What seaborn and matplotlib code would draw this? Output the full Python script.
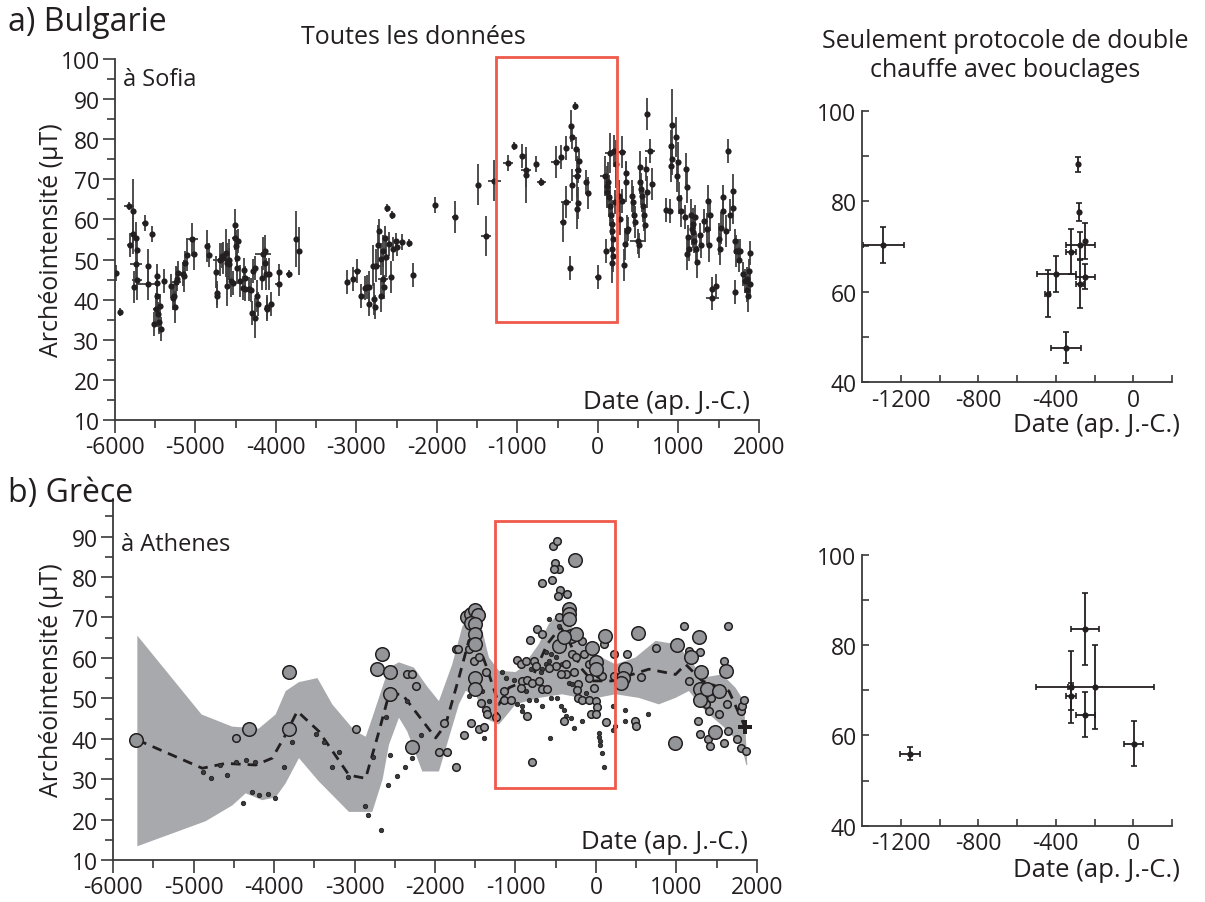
import numpy as np
import matplotlib
matplotlib.use("Agg")
import matplotlib.pyplot as plt
from matplotlib.patches import Rectangle
from matplotlib.ticker import MultipleLocator, FixedLocator
import seaborn as sns

# ---- a) Bulgarie, all data (date, intensity, intensity error, date error)
sofia_date = [-5992, -5934, -5822, -5772, -5814, -5781, -5739, -5731, -5739, -5723, -5764, -5627, -5540,
              -5590, -5590, -5516, -5483, -5491, -5474, -5474, -5462, -5450, -5433, -5441, -5387, -5308,
              -5275, -5267, -5259, -5242, -5234, -5217, -5159, -5143, -5126, -5101, -5043, -5018, -4861,
              -4836, -4745, -4737, -4737, -4696, -4675, -4663, -4621, -4613, -4604, -4588, -4580, -4563,
              -4538, -4513, -4505, -4497, -4489, -4480, -4472, -4447, -4414, -4397, -4389, -4381, -4331,
              -4306, -4298, -4265, -4281, -4257, -4240, -4219, -4174, -4157, -4132, -4141, -4124, -4116,
              -4108, -4091, -4066, -3958, -3967, -3843, -3756, -3718,
              -3122, -3040, -2998, -2948, -2895, -2874, -2842, -2849, -2800, -2783, -2767, -2758, -2733,
              -2717, -2700, -2692, -2675, -2667, -2659, -2647, -2634, -2618, -2593, -2560, -2568, -2543,
              -2510, -2494, -2440, -2345, -2295, -2026, -1777, -1495, -1392, -1290,
              -1115, -1044, -949, -895, -895, -771, -701, -523, -461, -440, -399, -399, -349, -333, -316,
              -324, -287, -275, -266, -266, -246, -233, -246, -142, -122, 2, 98,
              86, 107, 114, 127, 139, 145, 154, 162, 170, 179, 187, 179, 187, 179, 195, 207, 220,
              261, 278, 294, 303, 328, 331, 344, 352, 360, 373, 427, 436, 448, 460, 498, 510, 519, 527,
              539, 552, 560, 569, 581, 594, 610, 606, 643, 676, 851, 892, 914, 914, 922, 926, 976, 984,
              997, 1009, 1026, 1080, 1092, 1101, 1101, 1121, 1134, 1151, 1163, 1176, 1184, 1192, 1204,
              1217, 1225, 1266, 1275, 1316, 1349, 1369, 1382, 1390, 1415, 1423, 1473, 1506, 1514, 1523,
              1548, 1556, 1597, 1610, 1647, 1672, 1672, 1701, 1701, 1713, 1742, 1755, 1771, 1804, 1825,
              1846, 1854, 1867, 1879, 1887, 1887]
sofia_f = [46.7, 36.9, 63.3, 62.0, 53.7, 56.4, 55.4, 52.3, 48.8, 45.0, 43.2, 59.0, 56.4,
           48.5, 44.0, 33.9, 40.9, 37.6, 46.0, 44.2, 36.3, 34.4, 32.7, 38.5, 44.6, 43.5,
           40.5, 40.9, 38.2, 44.4, 45.2, 46.7, 46.5, 45.9, 49.2, 51.2, 55.0, 51.5, 53.3,
           51.2, 46.8, 41.7, 40.9, 50.0, 51.0, 50.4, 51.7, 49.2, 43.5, 50.0, 48.8, 44.6,
           44.2, 58.7, 55.4, 53.3, 47.9, 50.4, 54.6, 44.6, 42.9, 47.5, 45.4, 42.7, 42.7,
           42.4, 36.6, 35.5, 47.1, 47.9, 40.9, 39.0, 45.4, 51.5, 52.1, 49.2, 46.3, 38.2,
           37.6, 46.3, 39.0, 46.8, 43.8, 46.3, 55.1, 52.1,
           44.5, 45.2, 47.2, 41.0, 42.8, 43.1, 43.1, 38.9, 48.5, 40.2, 38.1, 48.5, 53.6,
           57.2, 41.0, 50.1, 52.2, 45.2, 43.1, 55.3, 50.6, 62.9, 53.9, 61.2, 45.6, 52.6,
           54.5, 53.0, 54.3, 54.0, 46.2, 63.6, 60.5, 68.7, 55.8, 69.7,
           74.0, 78.2, 75.9, 72.2, 71.1, 73.8, 69.4, 74.3, 75.5, 59.3, 77.8, 64.3, 47.9, 83.4, 80.6,
           68.6, 88.2, 77.6, 70.7, 62.5, 64.1, 74.5, 72.2, 69.3, 66.6, 45.7, 52.2,
           70.9, 68.4, 66.8, 69.3, 65.5, 63.4, 76.6, 61.0, 58.9, 57.2, 55.1, 52.6, 51.0, 49.2, 77.0, 64.3, 73.8,
           65.9, 60.1, 76.8, 64.7, 48.7, 53.9, 69.3, 71.6, 57.2, 57.6, 65.9, 64.3, 61.0, 59.3, 54.5, 53.5, 73.0, 69.3,
           67.6, 65.9, 63.4, 61.0, 58.5, 72.6, 66.8, 86.3, 77.0, 68.9, 62.4, 62.0, 78.2, 73.4, 83.6, 75.1, 80.5, 70.9,
           74.4, 65.3, 62.2, 60.5, 72.6, 68.2, 51.4, 55.6, 52.6, 61.0, 57.6, 58.9, 56.8, 54.7, 60.5,
           52.6, 49.3, 56.0, 53.5, 59.5, 57.6, 64.7, 53.5, 61.0, 42.7, 40.3, 43.3, 55.1, 52.6, 57.8,
           65.7, 62.0, 57.2, 77.0, 61.0, 67.2, 62.8, 54.5, 42.0, 52.2, 52.2, 50.0, 52.2, 46.4, 44.7,
           45.2, 42.3, 41.0, 47.2, 51.6, 43.9]
sofia_df = [2, 1, 1, 8, 3, 5, 4, 3, 4, 5, 4, 2, 2,
            4, 4, 3, 3, 4, 3, 3, 3, 3, 3, 3, 3, 3,
            3, 3, 4, 4, 3, 3, 3, 4, 3, 4, 4, 4, 4,
            3, 4, 3, 3, 4, 3, 4, 6, 5, 5, 5, 4, 4,
            3, 4, 3, 4, 4, 3, 3, 4, 3, 3, 3, 3, 3,
            3, 3, 5, 3, 3, 4, 3, 3, 4, 4, 4, 4, 3,
            3, 4, 3, 2, 3, 1, 7, 6,
            3, 3, 3, 3, 3, 3, 4, 3, 5, 4, 3, 4, 5,
            3, 4, 4, 4, 4, 3, 3, 5, 1, 3, 1, 4, 3,
            2, 2, 2, 1, 3, 2, 4, 5, 5, 5,
            2, 1, 3, 4, 7, 2, 1, 4, 3, 5, 3, 4, 3, 4, 3,
            4, 1, 3, 5, 5, 4, 3, 3, 3, 4, 3, 3,
            5, 5, 4, 5, 5, 5, 5, 5, 6, 5, 5, 5, 4, 5, 4, 3, 6,
            4, 4, 4, 3, 4, 4, 5, 3, 4, 3, 4, 4, 3, 4, 3, 3, 4, 3,
            4, 4, 4, 4, 4, 3, 4, 4, 3, 4, 3, 3, 4, 4, 9, 4, 5, 4,
            5, 4, 4, 3, 4, 4, 4, 3, 3, 4, 4, 4, 4, 3, 3,
            4, 4, 3, 3, 3, 4, 4, 4, 4, 3, 3, 3, 4, 4, 4,
            3, 4, 4, 3, 4, 4, 4, 3, 3, 4, 3, 3, 3, 3, 3,
            3, 3, 4, 3, 3, 3]
sofia_dd = [0, 20, 60, 0, 40, 30, 20, 0, 80, 60, 0, 40, 20,
            0, 150, 20, 20, 40, 0, 0, 0, 0, 0, 30, 0, 0,
            0, 0, 30, 60, 0, 0, 0, 0, 0, 0, 80, 0, 0,
            0, 0, 0, 0, 80, 0, 0, 0, 0, 0, 0, 0, 0,
            0, 0, 40, 0, 0, 0, 40, 0, 0, 0, 0, 0, 0,
            0, 0, 0, 0, 0, 0, 0, 0, 100, 0, 0, 0, 0,
            40, 0, 0, 0, 40, 30, 0, 0,
            0, 0, 50, 0, 0, 0, 0, 0, 0, 0, 0, 60, 0,
            0, 0, 0, 0, 60, 0, 0, 0, 0, 20, 0, 0, 0,
            0, 30, 30, 0, 0, 0, 40, 0, 60, 80,
            60, 0, 0, 60, 0, 0, 60, 60, 0, 30, 0, 60, 0, 0, 0,
            0, 0, 0, 60, 0, 0, 0, 40, 0, 40, 40, 0,
            60, 0, 0, 0, 0, 0, 60, 0, 0, 0, 0, 0, 0, 0, 60, 0, 0,
            0, 0, 60, 0, 0, 0, 0, 0, 0, 0, 0, 0, 0, 0, 100, 0, 0, 0,
            0, 0, 0, 0, 0, 0, 0, 0, 60, 0, 0, 0, 0, 0, 0, 0, 0, 0,
            0, 0, 0, 0, 0, 0, 0, 0, 0, 0, 0, 0, 0, 0, 0,
            0, 0, 0, 0, 0, 0, 0, 0, 0, 0, 80, 0, 0, 0, 0,
            0, 0, 0, 0, 0, 0, 0, 0, 0, 0, 0, 0, 0, 0, 0,
            0, 0, 0, 0, 0, 0]

# ---- a) double heating with loops
sofia_dh_date = [-1290, -286, -279, -248, -274, -324, -398, -248, -274, -443, -348]
sofia_dh_f = [70.3, 88.2, 77.7, 71.2, 70.3, 68.8, 63.9, 63.3, 61.6, 59.5, 47.6]
sofia_dh_df = [3.9, 1.7, 2.0, 4.0, 3.0, 5.0, 4.0, 2.8, 5.3, 5.2, 3.5]
sofia_dh_dd = [105, 0, 0, 0, 76, 26, 100, 50, 21, 13, 78]

# ---- b) Grece, reference curve envelope and mean
band_up_date = [-5698, -4900, -4520, -4190, -3980, -3855, -3690, -3460, -3276, -3000, -2860, -2779,
                -2572, -2448, -2262, -2100, -1951, -1786, -1662, -1560, -1470, -1413, -1330, -1206,
                -1000, -917, -710, -586, -461, -254, -88, 243, 491, 740, 988, 1154, 1320, 1568,
                1734, 1838, 1880]
band_up_f = [65.5, 46.0, 43.0, 42.5, 46.0, 51.8, 54.0, 55.0, 48.5, 42.0, 40.5, 45.2,
             57.6, 58.9, 57.6, 53.0, 49.3, 58.4, 67.6, 72.0, 71.0, 66.8, 60.1, 56.8,
             56.5, 57.6, 63.4, 68.4, 70.9, 66.7, 61.7, 58.4, 60.1, 64.2, 63.4, 60.1, 55.1, 55.9,
             52.6, 49.3, 33.5]
band_lo_date = [-5698, -4849, -4518, -4352, -4146, -3979, -3855, -3690, -3441, -3069, -2779, -2650,
                -2572, -2448, -2345, -2158, -1951, -1703, -1620, -1495, -1370, -1206, -999, -710,
                -420, -88, 243, 533, 781, 988, 1154, 1361, 1651, 1817, 1867]
band_lo_f = [13.4, 19.6, 23.5, 26.5, 24.8, 25.5, 29.0, 35.2, 29.4, 21.9, 21.9, 30.0,
             38.5, 45.2, 41.8, 31.9, 31.9, 48.5, 51.8, 51.0, 45.0, 43.5, 48.5, 50.1,
             51.0, 49.7, 51.0, 50.1, 48.5, 50.1, 51.8, 46.8, 41.8, 37.7, 33.5]
curve_date = [-5698, -4891, -4600, -4228, -4022, -3856, -3711, -3441, -3069, -2862, -2696, -2572,
              -2407, -1992, -1868, -1703, -1579, -1495, -1371, -1206, -1082, -792, -606, -440,
              -337, -192, -47, 201, 450, 657, 988, 1113, 1320, 1651, 1838]
curve_f = [39.7, 32.7, 33.9, 33.5, 35.2, 41.0, 46.8, 41.8, 31.0, 30.2, 41.8, 51.0,
           51.0, 40.2, 43.5, 55.1, 64.3, 65.1, 58.4, 48.5, 52.6, 55.1, 63.4, 67.6,
           64.3, 57.6, 54.3, 54.3, 55.9, 57.2, 55.9, 58.4, 54.3, 51.8, 43.5]

# ---- b) Athens data, by symbol size
big_date = [-5718, -4311, -3814, -3814, -2655, -2717, -2560, -2560, -2283, -1600, -1558, -1508, -1463,
            -1558, -1504, -1504, -1504, -1508, -1508, -262, -337, -337, -337, -316, -246, -461, -395,
            110, -55, -5, -5, 521, 1278, 1009, 357, 336, 316, 1175, 1299, 1287, 1287, 1382, 1527,
            1609, 1473, 976]
big_f = [39.8, 42.5, 56.6, 42.5, 60.9, 57.2, 56.6, 51.1, 38.0, 70.1, 70.9, 71.9, 70.7,
         68.6, 68.4, 65.9, 63.4, 55.1, 52.2, 84.2, 72.1, 70.9, 69.7, 65.5, 65.9, 63.0, 65.1,
         65.5, 62.4, 58.9, 57.2, 66.1, 65.1, 63.3, 57.2, 55.1, 53.9, 60.1, 56.4, 52.2, 49.7, 52.2, 51.8,
         56.8, 41.6, 38.9]
med_date = [-4469, -2986, -1889, -1744, -1951, -1848, -2345, -2290, -2240, -1744, -1712, -1579, -1537,
            -1516, -1455, -1371, -1434, -1371, -1558, -1455, -1392, -1641, -1351, -1247,
            -535, -482, -514, -461, -523, -676, -544, -448, -473, -366, -461, -731, -669, -824,
            98, -171, -150, -88, -295, -246, -378, -378, -275, -221, -233, -88, -26, 36, 77, 222, 222,
            -221, -171, -88, -5, 16, -67, -5, 123, -399, -855, -792, -979, -937, -875, -772, -751,
            -917, -855, -792, -710, -1144, -1061, -1144, -937, -669, -503, -440, -606, -586,
            388, 740, 1092, 1642, 554, 1154, 1287, 1423, 1588, 1154, 1361, 1402, 1527, 1630, 1270,
            1291, 1394, 1411, 1588, 1642, 1754, 1796, 1867, 1796, 1809, 1838, 483, 491]
med_f = [40.2, 42.5, 43.9, 33.0, 36.6, 36.6, 56.1, 56.1, 53.1, 62.2, 62.2, 62.2, 63.9,
         59.3, 60.1, 56.6, 48.9, 47.2, 43.9, 42.5, 43.0, 41.0, 46.2, 45.3,
         87.7, 88.8, 83.4, 82.1, 82.1, 78.4, 79.2, 76.9, 75.2, 75.7, 70.1, 67.2, 65.8, 64.3,
         63.4, 64.1, 60.9, 58.4, 60.9, 60.1, 58.4, 55.9, 56.6, 53.5, 52.0, 55.1, 52.6, 55.9, 55.5, 60.9, 55.5,
         50.1, 49.7, 49.7, 49.3, 47.8, 46.0, 46.0, 44.2, 44.3, 45.5, 34.3, 59.4, 58.4, 59.3, 59.3, 58.0,
         54.3, 54.5, 53.9, 54.3, 49.7, 49.7, 51.8, 52.6, 52.2, 58.0, 55.9, 52.2, 57.6,
         60.9, 62.4, 68.0, 68.0, 55.3, 61.7, 61.4, 50.1, 59.3, 54.3, 48.5, 46.8, 46.0, 48.5, 44.5,
         41.2, 40.0, 38.3, 38.9, 42.0, 40.0, 37.7, 37.0, 46.8, 48.0, 49.7, 44.5, 43.1]
small_date = [-4878, -4787, -4588, -4385, -4270, -4187, -4071, -3988, -3876, -3781, -4675, -4476, -4352,
              -4236, -3482, -3379, -3276, -3193, -3077, -2870, -2837, -2675, -2767, -2613, -2581, -2560,
              -2477, -2374, -2283, -2171, -2345, -1579, -1392, -1330, -1413,
              -1165, -1020, -875, -813, -669, -627, -689, -565, -482, -669, -440, -399, -378, -316,
              -171, -275, -573, -586, -461, -627, -565, -586, -503, -420, -337, -295, -130, 36, 36,
              45, 45, 77, 98, 210, 235, 210, 359, 359, 648, -1247, -1123, -979, -917, -834, -751, -917]
small_f = [31.8, 30.3, 31.0, 24.1, 26.7, 26.2, 26.3, 25.4, 33.1, 39.2, 33.5, 34.3, 34.7,
           34.3, 41.2, 39.3, 33.1, 36.6, 30.6, 23.3, 21.2, 17.3, 35.6, 45.3, 28.5, 36.0,
           30.7, 33.1, 35.3, 41.0, 49.4, 50.6, 40.2, 49.4, 51.8,
           56.4, 54.5, 51.8, 57.2, 57.2, 58.4, 56.4, 50.1, 50.1, 48.0, 48.0, 47.2, 45.5, 45.1,
           44.3, 42.7, 40.3, 69.7, 68.0, 61.4, 60.9, 59.3, 60.1, 58.4, 53.9, 53.5, 51.4, 41.4, 40.5,
           39.5, 38.5, 36.4, 33.1, 48.2, 43.1, 42.2, 47.2, 44.3, 46.1, 46.0, 55.1, 48.5, 48.0, 49.7, 49.7, 46.8]
star_date = [1850]
star_f = [42.8]

# ---- b) double heating with loops
athens_dh_date = [-1152, -248, -324, -324, -198, -248, 2]
athens_dh_f = [56.0, 83.6, 70.7, 68.7, 70.8, 64.6, 58.2]
athens_dh_df = [1.4, 7.9, 8.0, 3.0, 9.3, 5.0, 5.0]
athens_dh_dd = [50, 72, 15, 26, 302, 50, 50]

# red selection window
box_date = (-1260, 240)
box_f_top = (34.4, 100.5)
box_f_bot = (27.7, 93.8)

INK = '#231f20'
GREY_BAND = '#a7a9ac'
GREY_DOT = '#939598'
RED = '#ef5a4b'

sns.set_theme(style='ticks')
plt.rcParams['font.family'] = ['Open Sans', 'DejaVu Sans']
plt.rcParams['axes.unicode_minus'] = False
plt.rcParams['text.color'] = INK
plt.rcParams['axes.edgecolor'] = '#3a3a3a'
plt.rcParams['xtick.color'] = '#3a3a3a'
plt.rcParams['ytick.color'] = '#3a3a3a'
plt.rcParams['xtick.labelcolor'] = INK
plt.rcParams['ytick.labelcolor'] = INK

fig = plt.figure(figsize=(12.05, 9.03), dpi=100)
ax_a = fig.add_axes([0.0954, 0.5338, 0.5344, 0.3998])
ax_b = fig.add_axes([0.0938, 0.0465, 0.5344, 0.3998])
ax_ar = fig.add_axes([0.7154, 0.5759, 0.2573, 0.3001])
ax_br = fig.add_axes([0.7154, 0.0845, 0.2573, 0.2998])


def style_left(ax, ymax_label, ytop):
    sns.despine(ax=ax)
    ax.set_xlim(-6000, 2000)
    ax.set_ylim(10, ytop)
    ax.xaxis.set_major_locator(MultipleLocator(1000))
    ax.xaxis.set_minor_locator(MultipleLocator(500))
    ax.yaxis.set_major_locator(FixedLocator(list(range(10, ymax_label + 1, 10))))
    ax.yaxis.set_minor_locator(MultipleLocator(5))
    ax.tick_params(which='major', direction='out', length=9, width=1.2, labelsize=16.5, pad=2)
    ax.tick_params(which='minor', direction='out', length=6, width=1.2)
    for s in ax.spines.values():
        s.set_linewidth(1.3)
    ax.set_xlabel('')
    ax.set_ylabel('')
    ax.text(0.986, 0.05, 'Date (ap. J.-C.)', transform=ax.transAxes, ha='right', va='center', fontsize=18.5)


def style_right(ax):
    sns.despine(ax=ax)
    ax.set_xlim(-1400, 200)
    ax.set_ylim(40, 100)
    ax.xaxis.set_major_locator(FixedLocator([-1200, -800, -400, 0]))
    ax.xaxis.set_minor_locator(FixedLocator([-1000, -600, -200, 200]))
    ax.yaxis.set_major_locator(FixedLocator([40, 60, 80, 100]))
    ax.yaxis.set_minor_locator(FixedLocator([50, 70, 90]))
    ax.tick_params(which='both', direction='in', length=5, width=1.2, labelsize=16.5, pad=4)
    for s in ax.spines.values():
        s.set_linewidth(1.3)
    ax.set_xlabel('')
    ax.set_ylabel('')


# a) all data
ax_a.errorbar(sofia_date, sofia_f, yerr=sofia_df, xerr=sofia_dd, fmt='none',
              ecolor='#404040', elinewidth=1.3, capsize=0, zorder=2)
sns.scatterplot(x=sofia_date, y=sofia_f, ax=ax_a, s=20, color=INK, edgecolor=INK, linewidth=0, zorder=3)
ax_a.add_patch(Rectangle((box_date[0], box_f_top[0]), box_date[1] - box_date[0], box_f_top[1] - box_f_top[0],
                         fill=False, edgecolor=RED, linewidth=2, clip_on=False, zorder=4))
style_left(ax_a, 100, 100)
ax_a.text(0.012, 0.945, 'à Sofia', transform=ax_a.transAxes, ha='left', va='center', fontsize=17)

# b) all data
ax_b.fill(band_up_date + band_lo_date[::-1], band_up_f + band_lo_f[::-1], color=GREY_BAND, lw=0, zorder=1)
sns.lineplot(x=curve_date, y=curve_f, ax=ax_b, sort=False, estimator=None, color=INK,
             linewidth=2, linestyle=(0, (3.5, 2.5)), zorder=2)
sns.scatterplot(x=small_date, y=small_f, ax=ax_b, s=10, color='#3a3a3c', edgecolor=INK, linewidth=0.6, zorder=3)
sns.scatterplot(x=med_date, y=med_f, ax=ax_b, s=30, color=GREY_DOT, edgecolor=INK, linewidth=1.1, zorder=4)
sns.scatterplot(x=big_date, y=big_f, ax=ax_b, s=95, color=GREY_DOT, edgecolor=INK, linewidth=1.1, zorder=5)
sns.scatterplot(x=star_date, y=star_f, ax=ax_b, s=110, marker='P', color=INK, edgecolor=INK, linewidth=0, zorder=6)
ax_b.add_patch(Rectangle((box_date[0], box_f_bot[0]), box_date[1] - box_date[0], box_f_bot[1] - box_f_bot[0],
                         fill=False, edgecolor=RED, linewidth=2, clip_on=False, zorder=7))
style_left(ax_b, 90, 99.3)
ax_b.text(0.012, 0.875, 'à Athenes', transform=ax_b.transAxes, ha='left', va='center', fontsize=17)

# right panels: double heating protocol only
ax_ar.errorbar(sofia_dh_date, sofia_dh_f, yerr=sofia_dh_df, xerr=sofia_dh_dd, fmt='none',
               ecolor=INK, elinewidth=1.3, capsize=2.5, capthick=1.2, zorder=2)
sns.scatterplot(x=sofia_dh_date, y=sofia_dh_f, ax=ax_ar, s=20, color=INK, linewidth=0, zorder=3)
style_right(ax_ar)

ax_br.errorbar(athens_dh_date, athens_dh_f, yerr=athens_dh_df, xerr=athens_dh_dd, fmt='none',
               ecolor=INK, elinewidth=1.3, capsize=2.5, capthick=1.2, zorder=2)
sns.scatterplot(x=athens_dh_date, y=athens_dh_f, ax=ax_br, s=20, color=INK, linewidth=0, zorder=3)
style_right(ax_br)

# texts
fig.text(0.007, 0.9756, 'a) Bulgarie', fontsize=23, ha='left', va='center')
fig.text(0.007, 0.454, 'b) Grèce', fontsize=23, ha='left', va='center')
fig.text(0.343, 0.959, 'Toutes les données', fontsize=18, ha='center', va='center')
fig.text(0.834, 0.938, 'Seulement protocole de double\nchauffe avec bouclages', fontsize=18,
         ha='center', va='center', linespacing=1.25)
fig.text(0.043, 0.734, 'Archéointensité (µT)', fontsize=18, rotation=90, ha='center', va='center')
fig.text(0.043, 0.247, 'Archéointensité (µT)', fontsize=18, rotation=90, ha='center', va='center')
fig.text(0.979, 0.529, 'Date (ap. J.-C.)', fontsize=18.5, ha='right', va='center')
fig.text(0.979, 0.0365, 'Date (ap. J.-C.)', fontsize=18.5, ha='right', va='center')

fig.savefig('out.png', dpi=100)
